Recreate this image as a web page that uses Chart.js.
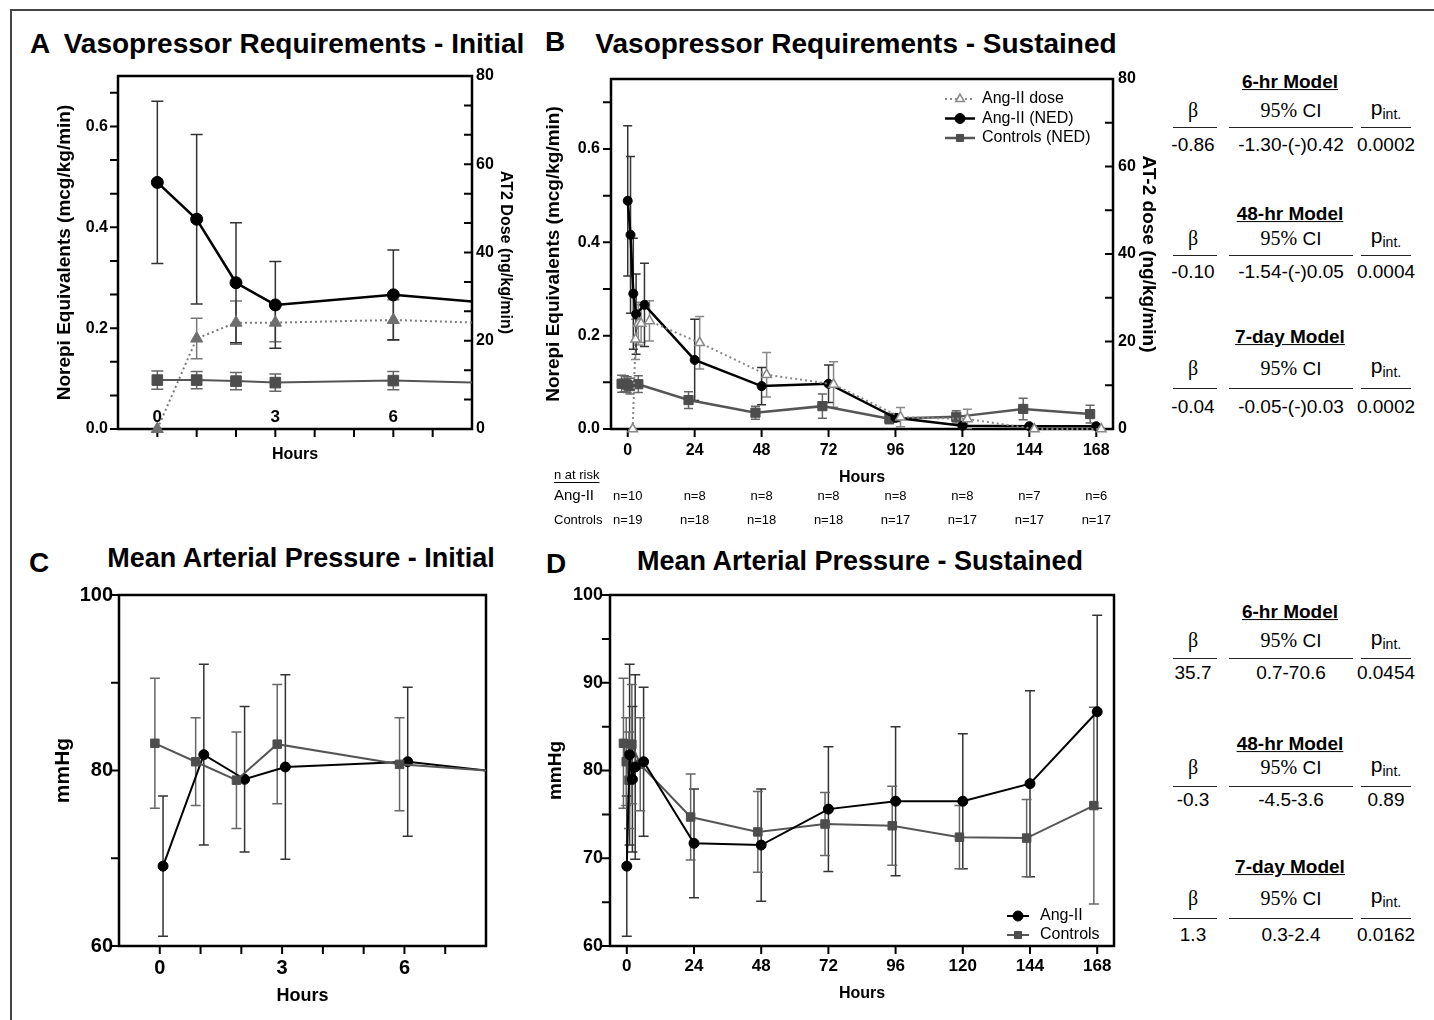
<!DOCTYPE html>
<html>
<head>
<meta charset="utf-8">
<title>Ang-II: vasopressor requirements and MAP</title>
<script src="https://cdn.jsdelivr.net/npm/chart.js@4.4.1/dist/chart.umd.min.js"></script>
<style>
  html, body { margin: 0; padding: 0; background: #fff; }
  body { position: relative; width: 1434px; height: 1020px; overflow: hidden;
         font-family: "Liberation Sans", Arial, Helvetica, sans-serif; color: #000; }
  canvas { position: absolute; }
  .txt { position: absolute; white-space: nowrap; line-height: 1.15; }
  .letter { font-weight: bold; font-size: 28px; }
  .title { font-weight: bold; font-size: 27px; }
  .title.big { font-size: 28px; }
  .model { font-weight: bold; font-size: 19px; text-decoration: underline; }
  .head { font-size: 19px; }
  .serif { font-family: "Liberation Serif", "Times New Roman", serif; font-size: 20px; }
  .pint { font-size: 21px; }
  .pint sub { font-size: 14px; vertical-align: -4px; }
  .val { font-size: 19px; }
  .rule { position: absolute; height: 0; border-top: 1.5px solid #222; }
  .edge { position: absolute; background: #444; }
</style>
</head>
<body>
<div class="edge" style="left:10px;top:9px;width:1424px;height:1.5px"></div>
<div class="edge" style="left:10px;top:9px;width:1.5px;height:1011px"></div>
<canvas id="panelA"></canvas>
<canvas id="panelB"></canvas>
<canvas id="panelC"></canvas>
<canvas id="panelD"></canvas>
<script>
/* ---------- data ---------- */
const hours = [0, 1, 2, 3, 6, 24, 48, 72, 96, 120, 144, 168];

// norepinephrine equivalents (mcg/kg/min), mean and SEM
const nedAngII    = [0.489, 0.416, 0.290, 0.246, 0.266, 0.148, 0.092, 0.097, 0.024, 0.007, 0.006, 0.006];
const nedAngIISem = [0.161, 0.168, 0.119, 0.086, 0.089, 0.087, 0.040, 0.040, 0.008, 0.005, 0.003, 0.003];
const nedCtrl     = [0.097, 0.097, 0.095, 0.092, 0.096, 0.062, 0.035, 0.049, 0.022, 0.026, 0.043, 0.032];
const nedCtrlSem  = [0.018, 0.017, 0.017, 0.017, 0.018, 0.018, 0.014, 0.026, 0.011, 0.013, 0.023, 0.019];

// Ang-II infusion dose (ng/kg/min)
const angDose     = [0, 20.5, 24.1, 24.1, 24.7, 19.7, 12.4, 10.2, 2.7, 2.3, 0, 0];
const angDoseSem  = [0, 4.6, 4.9, 4.3, 4.6, 6.0, 5.1, 5.2, 2.2, 2.2, 0, 0];

// mean arterial pressure (mmHg)
const mapAngII    = [69.1, 81.8, 79.0, 80.4, 81.0, 71.7, 71.5, 75.6, 76.5, 76.5, 78.5, 86.7];
const mapAngIISem = [8.0, 10.3, 8.3, 10.5, 8.5, 6.2, 6.4, 7.1, 8.5, 7.7, 10.6, 11.0];
const mapCtrl     = [83.1, 81.0, 78.9, 83.0, 80.7, 74.7, 73.0, 73.9, 73.7, 72.4, 72.3, 76.0];
const mapCtrlSem  = [7.4, 5.0, 5.5, 6.8, 5.3, 4.9, 4.6, 3.6, 4.5, 3.6, 4.4, 11.2];

// n at risk
const riskHours = [0, 24, 48, 72, 96, 120, 144, 168];
const riskAngII = [10, 8, 8, 8, 8, 8, 7, 6];
const riskCtrl  = [19, 18, 18, 18, 17, 17, 17, 17];

// ticks
const shortHourTicks  = [0, 1, 2, 3, 4, 5, 6, 7];
const shortHourLabels = [0, 3, 6];
const longHourTicks   = [0, 24, 48, 72, 96, 120, 144, 168];
const nedLabels       = [0, 0.2, 0.4, 0.6];
const doseLabels      = [0, 20, 40, 60, 80];
const mapLabelsC      = [60, 80, 100];
const mapLabelsD      = [60, 70, 80, 90, 100];

// interaction models
const modelNames = ['6-hr Model', '48-hr Model', '7-day Model'];
const nedBeta = ['-0.86', '-0.10', '-0.04'];
const nedCI   = ['-1.30-(-)0.42', '-1.54-(-)0.05', '-0.05-(-)0.03'];
const nedP    = ['0.0002', '0.0004', '0.0002'];
const mapBeta = ['35.7', '-0.3', '1.3'];
const mapCI   = ['0.7-70.6', '-4.5-3.6', '0.3-2.4'];
const mapP    = ['0.0454', '0.89', '0.0162'];

/* ---------- helpers ---------- */
Chart.defaults.font.family = '"Liberation Sans", Arial, sans-serif';
Chart.defaults.color = '#000';

const FONT = '"Liberation Sans", Arial, sans-serif';
const pts = (xs, ys, shift = 0) => xs.map((x, i) => ({ x: x + shift, y: ys[i] }));
const steps = (lo, hi, n) => Array.from({ length: n + 1 }, (_, i) => lo + (hi - lo) * i / n);

// tick marks, boxed frame, optional tick labels inside the plot
const frameAndTicks = {
  id: 'frameAndTicks',
  beforeDatasetsDraw(chart, args, o) {
    const { ctx, chartArea: a } = chart;
    ctx.save();
    ctx.strokeStyle = '#000';
    ctx.lineWidth = 2;
    Object.entries(o.marks || {}).forEach(([id, len]) => {
      const s = chart.scales[id];
      ctx.beginPath();
      s.ticks.forEach(t => {
        const p = s.getPixelForValue(t.value);
        if (s.position === 'bottom') { ctx.moveTo(p, a.bottom); ctx.lineTo(p, a.bottom + len); }
        else if (s.position === 'left') { ctx.moveTo(a.left, p); ctx.lineTo(a.left - len, p); }
        else { ctx.moveTo(a.right, p); ctx.lineTo(a.right + len, p); }
      });
      ctx.stroke();
    });
    ctx.lineWidth = 2.5;
    ctx.strokeRect(a.left, a.top, a.width, a.height);
    if (o.inner) {
      const xs = chart.scales.x;
      ctx.fillStyle = '#000';
      ctx.font = o.inner.font;
      ctx.textAlign = 'center';
      ctx.textBaseline = 'middle';
      o.inner.values.forEach(v => ctx.fillText(String(v), xs.getPixelForValue(v), a.bottom + o.inner.dy));
    }
    ctx.restore();
  }
};

// SEM error bars
const errorBars = {
  id: 'errorBars',
  beforeDatasetsDraw(chart) {
    const { ctx, chartArea: a } = chart;
    ctx.save();
    ctx.beginPath();
    ctx.rect(a.left, a.top - 1, a.width, a.height + 2);
    ctx.clip();
    chart.data.datasets.forEach((ds, i) => {
      if (!ds.errors) return;
      const meta = chart.getDatasetMeta(i);
      ctx.strokeStyle = ds.errColor;
      ctx.lineWidth = 1.5;
      ds.data.forEach((p, j) => {
        const e = ds.errors[j];
        if (!e) return;
        const px = meta.xScale.getPixelForValue(p.x);
        const y1 = meta.yScale.getPixelForValue(p.y - e);
        const y2 = meta.yScale.getPixelForValue(p.y + e);
        const c = ds.cap;
        ctx.beginPath();
        ctx.moveTo(px, y1); ctx.lineTo(px, y2);
        ctx.moveTo(px - c, y1); ctx.lineTo(px + c, y1);
        ctx.moveTo(px - c, y2); ctx.lineTo(px + c, y2);
        ctx.stroke();
      });
    });
    ctx.restore();
  }
};

// legend drawn inside the plot
const inlineLegend = {
  id: 'inlineLegend',
  afterDatasetsDraw(chart, args, o) {
    if (!o.order) return;
    const { ctx, chartArea: a } = chart;
    const y0 = o.fromBottom ? a.bottom - o.y : a.top + o.y;
    ctx.save();
    o.order.forEach((di, row) => {
      const ds = chart.data.datasets[di];
      const y = y0 + row * o.gap;
      ctx.strokeStyle = ds.borderColor;
      ctx.lineWidth = ds.borderWidth;
      ctx.setLineDash(ds.borderDash || []);
      ctx.beginPath();
      ctx.moveTo(a.right + o.lineFrom, y);
      ctx.lineTo(a.right + o.lineTo, y);
      ctx.stroke();
      ctx.setLineDash([]);
      ctx.fillStyle = ds.pointBackgroundColor;
      ctx.strokeStyle = ds.pointBorderColor;
      ctx.lineWidth = ds.pointBorderWidth;
      Chart.helpers.drawPoint(ctx, { pointStyle: ds.pointStyle, radius: o.radius, borderWidth: ds.pointBorderWidth, rotation: 0 }, a.right + o.mark, y);
      ctx.fillStyle = '#000';
      ctx.font = o.font;
      ctx.textAlign = 'left';
      ctx.textBaseline = 'middle';
      ctx.fillText(ds.label, a.right + o.text, y);
    });
    ctx.restore();
  }
};

// n at risk table under panel B
const atRisk = {
  id: 'atRisk',
  afterDraw(chart, args, o) {
    if (!o.rows) return;
    const { ctx } = chart;
    const xs = chart.scales.x;
    ctx.save();
    ctx.fillStyle = '#000';
    ctx.textBaseline = 'middle';
    ctx.textAlign = 'left';
    ctx.font = '13px ' + FONT;
    ctx.fillText('n at risk', o.left, o.rows[0]);
    ctx.fillRect(o.left, o.rows[0] + 7, ctx.measureText('n at risk').width, 1);
    ctx.font = '15px ' + FONT;
    ctx.fillText('Ang-II', o.left, o.rows[1]);
    ctx.font = '13px ' + FONT;
    ctx.fillText('Controls', o.left, o.rows[2]);
    ctx.textAlign = 'center';
    riskHours.forEach((h, i) => {
      const px = xs.getPixelForValue(h);
      ctx.fillText('n=' + riskAngII[i], px, o.rows[1]);
      ctx.fillText('n=' + riskCtrl[i], px, o.rows[2]);
    });
    ctx.restore();
  }
};

function axis(position, min, max, tickVals, labelVals, fmt, fontSize, pad, title) {
  return {
    type: 'linear', position, min, max,
    grid: { display: false, drawTicks: false }, border: { display: false },
    afterBuildTicks: s => { s.ticks = tickVals.map(v => ({ value: v })); },
    ticks: {
      autoSkip: false, maxRotation: 0, padding: pad, color: '#000',
      font: { size: fontSize, weight: 'bold' },
      callback: v => labelVals.some(l => Math.abs(l - v) < 1e-9) ? fmt(v) : ''
    },
    title: {
      display: true, text: title.text, color: '#000',
      font: { size: title.size, weight: 'bold' },
      padding: { top: title.top || 0, bottom: title.bottom || 0 }
    }
  };
}

function makeChart(id, box, area, axes, datasets, pluginOpts) {
  const cv = document.getElementById(id);
  cv.width = box.w; cv.height = box.h;
  cv.style.left = box.l + 'px'; cv.style.top = box.t + 'px';
  const sizes = { x: box.t + box.h - area.b, y: area.l - box.l, y2: box.l + box.w - area.r };
  Object.entries(axes).forEach(([k, ax]) => {
    ax.afterFit = s => {
      if (s.isHorizontal()) s.height = sizes[k]; else s.width = sizes[k];
      s.paddingTop = s.paddingBottom = s.paddingLeft = s.paddingRight = 0;
    };
  });
  return new Chart(cv, {
    type: 'line',
    data: { datasets },
    options: {
      responsive: false, animation: false, events: [],
      layout: { padding: { top: area.t - box.t, left: 0, bottom: 0, right: axes.y2 ? 0 : box.l + box.w - area.r } },
      scales: axes,
      plugins: Object.assign({ legend: { display: false }, tooltip: { enabled: false } }, pluginOpts)
    },
    plugins: [frameAndTicks, errorBars, inlineLegend, atRisk]
  });
}

const CLIP = { left: 8, top: 8, right: 0, bottom: 10 };

function series(label, data, errors, st) {
  return Object.assign({
    label, data, errors,
    fill: false, tension: 0, clip: CLIP,
    pointBorderWidth: 1, pointHoverRadius: 0
  }, st);
}

const blackStyle = (r, cap) => ({
  borderColor: '#000', borderWidth: 2.5, pointStyle: 'circle', pointRadius: r,
  pointBackgroundColor: '#000', pointBorderColor: '#000', errColor: '#333', cap
});
const greyStyle = (r, cap, lw) => ({
  borderColor: '#555', borderWidth: lw, pointStyle: 'rect', pointRadius: r,
  pointBackgroundColor: '#4d4d4d', pointBorderColor: '#4d4d4d', errColor: '#666', cap
});

/* ---------- A: vasopressor, initial ---------- */
makeChart('panelA',
  { l: 28, t: 62, w: 514, h: 420 }, { l: 118, t: 76, r: 472, b: 429 },
  {
    x: axis('bottom', -1, 8, shortHourTicks, [], v => String(v), 16, 0,
            { text: 'Hours', size: 16, bottom: 17.4 }),
    y: axis('left', 0, 0.7, steps(0, 2 / 3, 10), nedLabels, v => v.toFixed(1), 16, 10,
            { text: 'Norepi Equivalents (mcg/kg/min)', size: 19, top: 25.6 }),
    y2: axis('right', 0, 80, steps(0, 80, 12), doseLabels, v => String(Math.round(v)), 16, 4,
            { text: 'AT2 Dose (ng/kg/min)', size: 16, top: 27.4 })
  },
  [
    series('Ang-II dose', pts(hours, angDose), angDoseSem, {
      yAxisID: 'y2', borderColor: '#7a7a7a', borderWidth: 2, borderDash: [2, 3],
      pointStyle: 'triangle', pointRadius: 7, pointBackgroundColor: '#6e6e6e',
      pointBorderColor: '#6e6e6e', errColor: '#777', cap: 6
    }),
    series('Controls (NED)', pts(hours, nedCtrl), nedCtrlSem, Object.assign({ yAxisID: 'y' }, greyStyle(7.5, 6, 2))),
    series('Ang-II (NED)', pts(hours, nedAngII), nedAngIISem, Object.assign({ yAxisID: 'y' }, blackStyle(6, 6)))
  ],
  { frameAndTicks: { marks: { x: 8, y: 8, y2: -8 },
                     inner: { values: shortHourLabels, dy: -12, font: 'bold 17px ' + FONT } } }
);

/* ---------- B: vasopressor, sustained ---------- */
makeChart('panelB',
  { l: 542, t: 62, w: 618, h: 470 }, { l: 611, t: 79, r: 1113, b: 429 },
  {
    x: axis('bottom', -6, 174, longHourTicks, longHourTicks, v => String(v), 16, 12,
            { text: 'Hours', size: 16, bottom: 44.4 }),
    y: axis('left', 0, 0.75, steps(0, 0.7, 7), nedLabels, v => v.toFixed(1), 16, 11,
            { text: 'Norepi Equivalents (mcg/kg/min)', size: 19, top: 0 }),
    y2: axis('right', 0, 80, steps(0, 80, 8), doseLabels, v => String(Math.round(v)), 16, 5,
            { text: 'AT-2 dose (ng/kg/min)', size: 19, top: 0.6 })
  },
  [
    series('Ang-II dose', pts(hours, angDose, 1.8), angDoseSem, {
      yAxisID: 'y2', borderColor: '#888', borderWidth: 2, borderDash: [2, 3],
      pointStyle: 'triangle', pointRadius: 5.5, pointBackgroundColor: '#fff',
      pointBorderColor: '#888', pointBorderWidth: 1.5, errColor: '#888', cap: 4.5
    }),
    series('Ang-II (NED)', pts(hours, nedAngII), nedAngIISem, Object.assign({ yAxisID: 'y' }, blackStyle(4.5, 4.5))),
    series('Controls (NED)', pts(hours, nedCtrl, -2.2), nedCtrlSem, Object.assign({ yAxisID: 'y' }, greyStyle(6.5, 4.5, 2.5)))
  ],
  {
    frameAndTicks: { marks: { x: 8, y: 8, y2: -8 } },
    inlineLegend: { order: [0, 1, 2], y: 20, gap: 19.5, lineFrom: -168, lineTo: -138, mark: -153,
                    text: -131, radius: 5, font: '16px ' + FONT },
    atRisk: { left: 12, rows: [413, 434, 458] }
  }
);

/* ---------- C: MAP, initial ---------- */
makeChart('panelC',
  { l: 28, t: 580, w: 482, h: 432 }, { l: 119, t: 595, r: 486, b: 946 },
  {
    x: axis('bottom', -1, 8, shortHourTicks, shortHourLabels, v => String(v), 20, 10,
            { text: 'Hours', size: 18, bottom: 5.2 }),
    y: axis('left', 60, 100, [60, 70, 80, 90, 100], mapLabelsC, v => String(v), 20, 6,
            { text: 'mmHg', size: 21, top: 22.4 })
  },
  [
    series('Controls', pts(hours, mapCtrl, -0.12), mapCtrlSem, Object.assign({}, greyStyle(6, 5, 2))),
    series('Ang-II', pts(hours, mapAngII, 0.08), mapAngIISem, Object.assign({}, blackStyle(5, 5), { borderWidth: 2 }))
  ],
  { frameAndTicks: { marks: { x: 8, y: 8 } } }
);

/* ---------- D: MAP, sustained ---------- */
makeChart('panelD',
  { l: 542, t: 580, w: 598, h: 432 }, { l: 610, t: 595, r: 1114, b: 946 },
  {
    x: axis('bottom', -6, 174, longHourTicks, longHourTicks, v => String(v), 17, 10,
            { text: 'Hours', size: 16, bottom: 8.4 }),
    y: axis('left', 60, 100, steps(60, 100, 8), mapLabelsD, v => String(v), 18, 7,
            { text: 'mmHg', size: 19, top: 2.6 })
  },
  [
    series('Ang-II', pts(hours, mapAngII), mapAngIISem, Object.assign({}, blackStyle(5, 5), { borderWidth: 2 })),
    series('Controls', pts(hours, mapCtrl, -1.2), mapCtrlSem, Object.assign({}, greyStyle(6, 5, 2)))
  ],
  {
    frameAndTicks: { marks: { x: 8, y: 8 } },
    inlineLegend: { order: [0, 1], fromBottom: true, y: 30, gap: 19, lineFrom: -107, lineTo: -85, mark: -96,
                    text: -74, radius: 5, font: '16px ' + FONT }
  }
);

/* ---------- text: titles and model tables ---------- */
function put(html, x, y, cls, align) {
  const d = document.createElement('div');
  d.className = 'txt ' + (cls || '');
  d.innerHTML = html;
  d.style.left = x + 'px';
  d.style.top = y + 'px';
  d.style.transform = align === 'left' ? 'translate(0,-50%)' : 'translate(-50%,-50%)';
  document.body.appendChild(d);
}
function rule(x1, x2, y) {
  const d = document.createElement('div');
  d.className = 'rule';
  d.style.left = x1 + 'px';
  d.style.width = (x2 - x1) + 'px';
  d.style.top = y + 'px';
  document.body.appendChild(d);
}

put('A', 30, 44, 'letter', 'left');
put('Vasopressor Requirements - Initial', 294, 44, 'title big');
put('B', 545, 42, 'letter', 'left');
put('Vasopressor Requirements - Sustained', 856, 44, 'title big');
put('C', 29, 563, 'letter', 'left');
put('Mean Arterial Pressure - Initial', 301, 559, 'title');
put('D', 546, 564, 'letter', 'left');
put('Mean Arterial Pressure - Sustained', 860, 562, 'title');

const colX = [1193, 1291, 1386];
const ruleX = [[1173, 1217], [1229, 1353], [1361, 1411]];
const blockRowsNed = [[82, 110, 127, 145], [214, 238, 255, 272], [337, 368, 388, 407]];
const blockRowsMap = [[612, 640, 658, 673], [744, 767, 786, 800], [867, 898, 918, 935]];

function modelTable(rows, beta, ci, p) {
  rows.forEach((r, i) => {
    put(modelNames[i], 1290, r[0], 'model');
    put('<span class="serif">β</span>', colX[0], r[1], 'head');
    put('<span class="serif">95%</span> CI', colX[1], r[1], 'head');
    put('p<sub>int.</sub>', colX[2], r[1] - 1, 'pint');
    ruleX.forEach(([a, b]) => rule(a, b, r[2]));
    put(beta[i], colX[0], r[3], 'val');
    put(ci[i], colX[1], r[3], 'val');
    put(p[i], colX[2], r[3], 'val');
  });
}
modelTable(blockRowsNed, nedBeta, nedCI, nedP);
modelTable(blockRowsMap, mapBeta, mapCI, mapP);
</script>
</body>
</html>
